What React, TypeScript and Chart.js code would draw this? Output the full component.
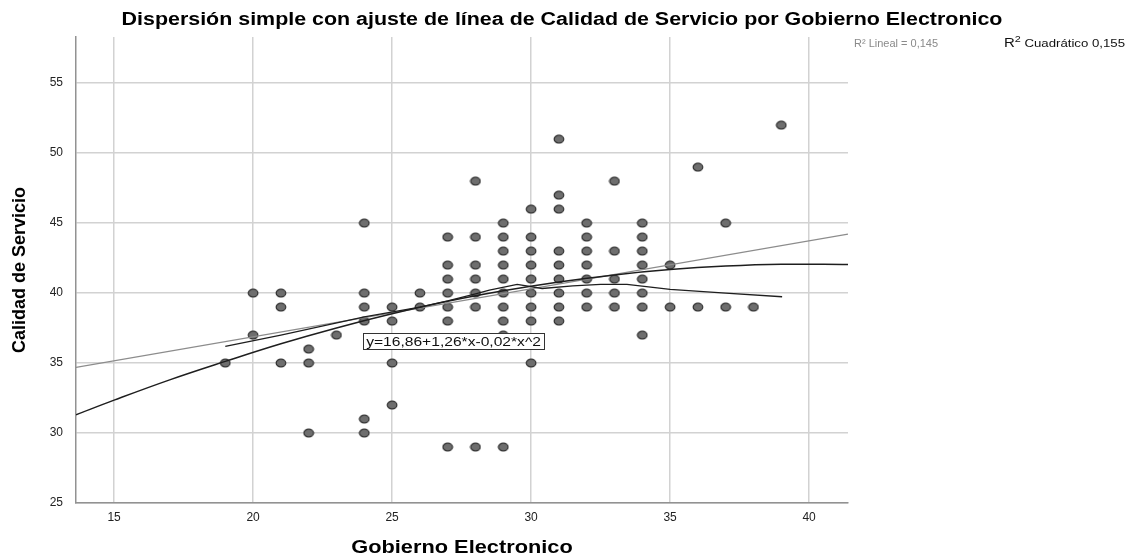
import React, { useEffect, useRef } from "react";
import { Chart, registerables } from "chart.js";

Chart.register(...registerables);

// ---- Data ----
const xTicks = [15, 20, 25, 30, 35, 40];
const yTicks = [25, 30, 35, 40, 45, 50, 55];

// Gobierno Electronico (x) and Calidad de Servicio (y), one entry per dot
const gobiernoElectronico = [
  19,
  20, 20,
  21, 21, 21,
  22, 22, 22,
  23,
  24, 24, 24, 24, 24, 24,
  25, 25, 25, 25,
  26, 26,
  27, 27, 27, 27, 27, 27, 27,
  28, 28, 28, 28, 28, 28, 28,
  29, 29, 29, 29, 29, 29, 29, 29, 29, 29,
  30, 30, 30, 30, 30, 30, 30, 30, 30,
  31, 31, 31, 31, 31, 31, 31, 31, 31,
  32, 32, 32, 32, 32, 32, 32,
  33, 33, 33, 33, 33,
  34, 34, 34, 34, 34, 34, 34, 34,
  35, 35,
  36, 36,
  37, 37,
  38,
  39,
];
const calidadServicio = [
  35,
  40, 37,
  40, 39, 35,
  36, 35, 30,
  37,
  45, 40, 39, 38, 31, 30,
  39, 38, 35, 32,
  40, 39,
  44, 42, 41, 40, 39, 38, 29,
  48, 44, 42, 41, 40, 39, 29,
  45, 44, 43, 42, 41, 40, 39, 38, 37, 29,
  46, 44, 43, 42, 41, 40, 39, 38, 35,
  51, 47, 46, 43, 42, 41, 40, 39, 38,
  45, 44, 43, 42, 41, 40, 39,
  48, 43, 41, 40, 39,
  45, 44, 43, 42, 41, 40, 39, 37,
  42, 39,
  49, 39,
  45, 39,
  39,
  52,
];

// Fit lines
const linealX = [13.63, 41.4];
const linealY = [34.69, 44.21];

const cuadraticoX = [13.63, 15, 17, 19, 21, 23, 25, 27, 29, 31, 33, 35, 37, 39, 41.4];
const cuadraticoY = [31.3, 32.35, 33.8, 35.12, 36.38, 37.51, 38.52, 39.41, 40.16, 40.79, 41.3, 41.68, 41.93, 42.06, 42.05];

const suavizadoX = [19, 21, 24, 26, 27, 28, 28.5, 29.5, 30.4, 31.5, 32.5, 33.45, 35, 37, 39.03];
const suavizadoY = [36.2, 37.0, 38.3, 39.0, 39.45, 39.95, 40.22, 40.62, 40.33, 40.52, 40.62, 40.62, 40.26, 40.0, 39.74];

const xRange = [13.63, 41.4];
const yRange = [25, 58.3];

const titleText = "Dispersión simple con ajuste de línea de Calidad de Servicio por Gobierno Electronico";
const xTitle = "Gobierno Electronico";
const yTitle = "Calidad de Servicio";
const equationText = "y=16,86+1,26*x-0,02*x^2";
const equationAnchor = { x: 23.96, y: 37.15 };
const r2Lineal = "R² Lineal = 0,145";
const r2CuadraticoName = " Cuadrático 0,155";

const FONT = "Arial, 'Liberation Sans', sans-serif";
const STRETCH = 1.2; // reference text is widened horizontally

const zip = (xs: number[], ys: number[]) => xs.map((x, i) => ({ x, y: ys[i] }));

function drawStretched(ctx: CanvasRenderingContext2D, text: string, cx: number, cy: number, font: string, color: string, sx: number, align: CanvasTextAlign = "center") {
  ctx.save();
  ctx.font = font;
  ctx.fillStyle = color;
  ctx.textAlign = align;
  ctx.textBaseline = "middle";
  ctx.translate(cx, cy);
  ctx.scale(sx, 1);
  ctx.fillText(text, 0, 0);
  ctx.restore();
}

const annotationPlugin = {
  id: "spssAnnotations",
  afterDatasetsDraw(chart: any) {
    const { ctx, scales } = chart;
    // Equation label
    const px = scales.x.getPixelForValue(equationAnchor.x);
    const py = scales.y.getPixelForValue(equationAnchor.y);
    ctx.save();
    const font = `13px ${FONT}`;
    ctx.font = font;
    const w = ctx.measureText(equationText).width * STRETCH + 6;
    const h = 16;
    ctx.fillStyle = "#ffffff";
    ctx.fillRect(px, py, w, h);
    ctx.strokeStyle = "#333333";
    ctx.lineWidth = 1;
    ctx.strokeRect(Math.round(px) + 0.5, Math.round(py) + 0.5, Math.round(w), h);
    ctx.restore();
    drawStretched(ctx, equationText, px + 3, py + h / 2 + 1, font, "#111111", STRETCH, "left");
  },
  afterDraw(chart: any) {
    const { ctx, chartArea } = chart;
    // Title
    drawStretched(ctx, titleText, 562, 20, `bold 18px ${FONT}`, "#000000", 1.19);
    // X axis title
    drawStretched(ctx, xTitle, (chartArea.left + chartArea.right) / 2, 548, `bold 18px ${FONT}`, "#000000", 1.21);

    // R² legend texts
    const y = 44;
    drawStretched(ctx, r2Lineal, chartArea.right + 6, y, `11px ${FONT}`, "#8a8a8a", 1.0, "left");

    ctx.save();
    ctx.font = `12.5px ${FONT}`;
    const wR = ctx.measureText("R").width * STRETCH;
    ctx.font = `9px ${FONT}`;
    const w2 = ctx.measureText("2").width * STRETCH;
    ctx.font = `11px ${FONT}`;
    const wRest = ctx.measureText(r2CuadraticoName).width * STRETCH;
    ctx.restore();
    let x = 1125 - (wR + w2 + wRest);
    drawStretched(ctx, "R", x, y, `12.5px ${FONT}`, "#111111", STRETCH, "left");
    x += wR;
    drawStretched(ctx, "2", x, y - 4, `9px ${FONT}`, "#111111", STRETCH, "left");
    x += w2;
    drawStretched(ctx, r2CuadraticoName, x, y, `11px ${FONT}`, "#111111", STRETCH, "left");
  },
};

function makeDot(): HTMLCanvasElement {
  const c = document.createElement("canvas");
  c.width = 12;
  c.height = 10;
  const g = c.getContext("2d")!;
  g.beginPath();
  g.ellipse(6, 5, 4.8, 3.8, 0, 0, Math.PI * 2);
  g.fillStyle = "#6e6e6e";
  g.fill();
  g.lineWidth = 1.2;
  g.strokeStyle = "#2e2e2e";
  g.stroke();
  return c;
}

export default function App() {
  const ref = useRef<HTMLCanvasElement | null>(null);

  useEffect(() => {
    if (!ref.current) return;
    const dot = makeDot();
    const chart = new Chart(ref.current, {
      type: "scatter",
      data: {
        datasets: [
          {
            label: "Cuadrático",
            data: zip(cuadraticoX, cuadraticoY),
            showLine: true,
            borderColor: "#1e1e1e",
            borderWidth: 1.5,
            pointRadius: 0,
            tension: 0.4,
          },
          {
            label: "Suavizado",
            data: zip(suavizadoX, suavizadoY),
            showLine: true,
            borderColor: "#1e1e1e",
            borderWidth: 1.3,
            pointRadius: 0,
            tension: 0,
          },
          {
            label: "Lineal",
            data: zip(linealX, linealY),
            showLine: true,
            borderColor: "#8c8c8c",
            borderWidth: 1.2,
            pointRadius: 0,
          },
          {
            label: "Observado",
            data: zip(gobiernoElectronico, calidadServicio),
            pointStyle: dot as any,
            pointRadius: 5,
            showLine: false,
          },
        ],
      },
      options: {
        animation: false,
        responsive: true,
        maintainAspectRatio: false,
        layout: { padding: { left: 0, right: 286, top: 37, bottom: 0 } },
        plugins: {
          legend: { display: false },
          tooltip: { enabled: false },
          title: { display: false },
        },
        scales: {
          x: {
            type: "linear",
            min: xRange[0],
            max: xRange[1],
            afterBuildTicks: (scale: any) => {
              scale.ticks = xTicks.map((v) => ({ value: v }));
            },
            afterFit: (scale: any) => {
              scale.height = 55;
            },
            grid: { color: "#d2d2d2", lineWidth: 1.5, drawTicks: false },
            border: { display: true, color: "#929292", width: 1.5 },
            ticks: { color: "#222222", font: { family: FONT, size: 12 }, padding: 7 },
            title: { display: false },
          },
          y: {
            type: "linear",
            min: yRange[0],
            max: yRange[1],
            afterBuildTicks: (scale: any) => {
              scale.ticks = yTicks.map((v) => ({ value: v }));
            },
            afterFit: (scale: any) => {
              scale.width = 76;
            },
            grid: { color: "#d2d2d2", lineWidth: 1.5, drawTicks: false },
            border: { display: true, color: "#929292", width: 1.5 },
            ticks: { color: "#222222", font: { family: FONT, size: 12 }, padding: 13 },
            title: {
              display: true,
              text: yTitle,
              color: "#000000",
              font: { family: FONT, size: 18, weight: "bold", lineHeight: 1.2 },
              padding: { top: 9, bottom: 0 },
            },
          },
        },
      },
      plugins: [annotationPlugin],
    });
    return () => chart.destroy();
  }, []);

  return (
    <div style={{ position: "fixed", left: 0, top: 0, width: 1134, height: 558, background: "#ffffff" }}>
      <canvas ref={ref} />
    </div>
  );
}
